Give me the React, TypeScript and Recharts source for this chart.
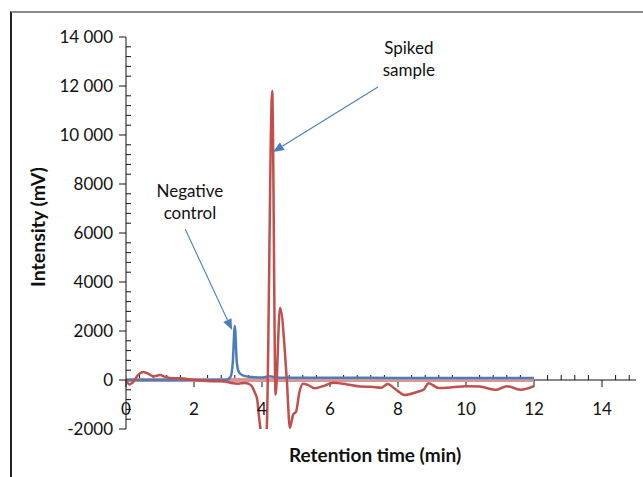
import { LineChart, Line, XAxis, YAxis, ReferenceLine, ReferenceDot, Label } from 'recharts'

// retention time (min) / intensity (mV)
const spikedTime = [
  0, 0.1, 0.2, 0.35, 0.5, 0.65, 0.8, 1.0, 1.15, 1.3, 1.6, 2.0, 2.5, 2.9, 3.1, 3.3, 3.5, 3.6, 3.7, 3.8, 3.86, 3.9,
  3.97, 4.05, 4.14, 4.3, 4.4, 4.53, 4.73, 4.82, 4.92, 5.0, 5.1, 5.2, 5.35, 5.55, 5.8, 6.1, 6.5, 6.9, 7.2, 7.5,
  7.7, 7.9, 8.2, 8.55, 8.75, 8.9, 9.2, 9.6, 10.0, 10.4, 10.9, 11.2, 11.6, 12.0,
]
const spikedIntensity = [
  0, -180, -100, 200, 330, 260, 150, 200, 130, 80, 70, 0, -50, -60, -120, -150, -120, -150, -250, -550, -800, -1350,
  -2200, -3500, -2000, 11800, -600, 2950, 0, -1950, -1400, -1300, -500, -150, -200, -340, -250, -110, -180, -270, -280, -320,
  -160, -350, -610, -490, -400, -130, -330, -300, -250, -270, -400, -250, -400, -250,
]

const controlTime = [0, 1, 2, 2.95, 3.08, 3.14, 3.2, 3.26, 3.33, 3.45, 3.7, 4.0, 4.2, 4.5, 6, 8, 10, 12]
const controlIntensity = [0, 0, 0, 0, 150, 700, 2200, 700, 300, 180, 120, 100, 150, 90, 90, 85, 85, 80]

const baselineTime = [0, 12]
const baselineIntensity = [0, 0]

const xTicks = [0, 2, 4, 6, 8, 10, 12, 14]
const yTicks = [-2000, 0, 2000, 4000, 6000, 8000, 10000, 12000, 14000]

const X_MAX = 15
const Y_MIN = -2000
const Y_MAX = 14000

const zip = (ts: number[], vs: number[]) => ts.map((t, i) => ({ t, v: vs[i] }))
const spiked = zip(spikedTime, spikedIntensity)
const control = zip(controlTime, controlIntensity)
const baseline = zip(baselineTime, baselineIntensity)

const font = 'Lato, "Open Sans", sans-serif'
const ink = '#111'
const arrowBlue = '#4a7ebb'

const fmtY = (v: number) => (Math.abs(v) >= 10000 ? String(v).replace(/(\d{3})$/, '\u2005$1') : String(v))

// x axis drawn through y = 0, majors below, minors above
function ZeroAxis(p: any) {
  const left = Math.min(p.x1, p.x2)
  const right = Math.max(p.x1, p.x2)
  const y = p.y1
  const sx = (t: number) => left + ((right - left) * t) / X_MAX
  const marks = []
  for (let k = 0; k <= 37; k++) {
    const t = k * 0.4
    const major = Math.abs(t / 2 - Math.round(t / 2)) < 1e-6
    if (major) continue
    marks.push(<line key={'m' + k} x1={sx(t)} x2={sx(t)} y1={y} y2={y - 5} stroke={ink} strokeWidth={1} />)
  }
  xTicks.forEach((t) =>
    marks.push(<line key={'M' + t} x1={sx(t)} x2={sx(t)} y1={y} y2={y + 7} stroke={ink} strokeWidth={1} />)
  )
  return (
    <g>
      <line x1={left} x2={right} y1={y} y2={y} stroke={ink} strokeWidth={1} />
      {marks}
    </g>
  )
}

// minor ticks of the y axis, pointing inward
function YMinor(p: any) {
  const top = Math.min(p.y1, p.y2)
  const bottom = Math.max(p.y1, p.y2)
  const x = p.x1
  const sy = (v: number) => top + ((Y_MAX - v) / (Y_MAX - Y_MIN)) * (bottom - top)
  const marks = []
  for (let v = Y_MIN; v <= Y_MAX; v += 400) {
    if (v % 2000 === 0) continue
    marks.push(<line key={v} x1={x} x2={x + 5} y1={sy(v)} y2={sy(v)} stroke={ink} strokeWidth={1} />)
  }
  return <g>{marks}</g>
}

function Arrow(p: any) {
  const { x1, y1, x2, y2 } = p
  const a = Math.atan2(y2 - y1, x2 - x1)
  const len = 11
  const half = 4.5
  const bx = x2 - len * Math.cos(a)
  const by = y2 - len * Math.sin(a)
  const px = -Math.sin(a) * half
  const py = Math.cos(a) * half
  return (
    <g>
      <line x1={x1} y1={y1} x2={bx} y2={by} stroke={arrowBlue} strokeWidth={1.1} />
      <polygon points={`${x2},${y2} ${bx + px},${by + py} ${bx - px},${by - py}`} fill={arrowBlue} />
    </g>
  )
}

const note = (lines: string[]) => (p: any) => (
  <text x={p.cx} y={p.cy} textAnchor="middle" fill={ink} fontFamily={font} fontSize={17}>
    {lines.map((s, i) => (
      <tspan key={i} x={p.cx} dy={i === 0 ? 0 : 22}>
        {s}
      </tspan>
    ))}
  </text>
)

function XTick(p: any) {
  return (
    <text x={p.x} y={p.y - 21} textAnchor="middle" dominantBaseline="central" fill={ink} fontFamily={font} fontSize={17}>
      {p.payload.value}
    </text>
  )
}

function XTitle(p: any) {
  const vb = p.viewBox
  return (
    <text x={vb.x + vb.width / 2 - 6} y={vb.y + 33} textAnchor="middle" fill={ink} fontFamily={font} fontSize={19} fontWeight="bold">
      Retention time (min)
    </text>
  )
}

function YTitle(p: any) {
  const vb = p.viewBox
  const cx = vb.x + 37
  const cy = vb.y + 190
  return (
    <text
      x={cx}
      y={cy}
      transform={`rotate(-90 ${cx} ${cy})`}
      textAnchor="middle"
      dominantBaseline="central"
      fill={ink}
      fontFamily={font}
      fontSize={19.5}
      fontWeight="bold"
    >
      Intensity (mV)
    </text>
  )
}

export default function App() {
  return (
    <div style={{ position: 'absolute', left: 0, top: 0, width: 643, height: 477, overflow: 'hidden', background: '#fff' }}>
      <div
        style={{
          position: 'absolute',
          left: 10,
          top: 11,
          width: 700,
          height: 500,
          borderLeft: '2px solid #222',
          borderTop: '2px solid #8a8a8a',
        }}
      />
      <div style={{ position: 'absolute', left: 0, top: 0 }}>
        <LineChart width={643} height={477} margin={{ top: 37, right: 7, bottom: 0, left: 0 }}>
          <XAxis
            type="number"
            dataKey="t"
            domain={[0, X_MAX]}
            ticks={xTicks}
            height={48}
            axisLine={false}
            tickLine={false}
            tickSize={0}
            tickMargin={0}
            tick={<XTick />}
            allowDataOverflow
          >
            <Label content={XTitle} />
          </XAxis>
          <YAxis
            type="number"
            dataKey="v"
            domain={[Y_MIN, Y_MAX]}
            ticks={yTicks}
            width={126}
            tickFormatter={fmtY}
            axisLine={{ stroke: ink }}
            tickLine={{ stroke: ink }}
            tickSize={7}
            tickMargin={6}
            tick={{ fill: ink, fontFamily: font, fontSize: 17 }}
            allowDataOverflow
          >
            <Label content={YTitle} />
          </YAxis>
          <ReferenceLine y={0} shape={ZeroAxis} />
          <ReferenceLine x={0} shape={YMinor} />
          <Line data={baseline} dataKey="v" stroke="#d99694" strokeWidth={4} dot={false} isAnimationActive={false} />
          <Line data={control} dataKey="v" type="monotone" stroke="#4a7ebb" strokeWidth={2.5} dot={false} isAnimationActive={false} />
          <Line data={spiked} dataKey="v" type="monotone" stroke="#c0504d" strokeWidth={2.5} dot={false} isAnimationActive={false} />
          <ReferenceLine segment={[{ x: 7.41, y: 11960 }, { x: 4.32, y: 9306 }]} shape={Arrow} />
          <ReferenceLine segment={[{ x: 1.74, y: 6163 }, { x: 3.12, y: 2040 }]} shape={Arrow} />
          <ReferenceDot x={8.32} y={13300} shape={note(['Spiked', 'sample'])} />
          <ReferenceDot x={1.88} y={7450} shape={note(['Negative', 'control'])} />
        </LineChart>
      </div>
    </div>
  )
}
